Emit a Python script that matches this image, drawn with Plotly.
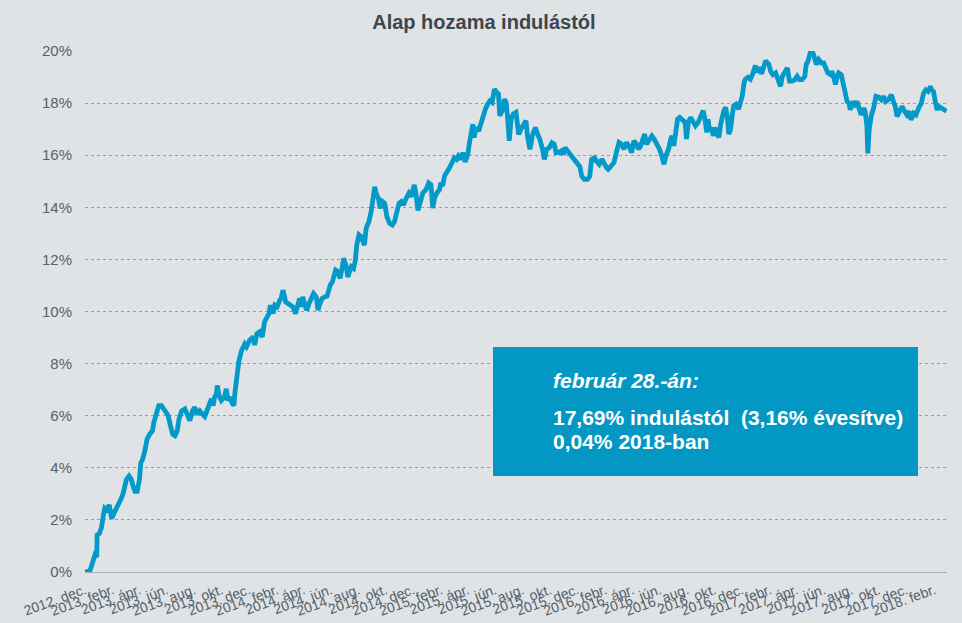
import plotly.graph_objects as go
import pandas as pd

# ---- data ----
start_date = "2012-12-01"
# days since start of the chart
nap = [
    0, 11, 15, 18, 22, 26, 27, 32, 37, 41, 44, 48, 54, 59, 63, 69, 74, 78, 81, 85,
    89, 92, 98, 103, 107, 111, 116, 121, 124, 128, 133, 138, 144, 150, 153, 159, 164, 170, 175, 180,
    185, 190, 195, 200, 205, 209, 215, 222, 227, 233, 239, 244, 249, 255, 261, 266, 271, 277, 281, 285,
    288, 292, 294, 298, 303, 310, 314, 318, 322, 328, 331, 333, 337, 342, 348, 355, 359,
    366, 374, 377, 382, 388, 394, 399, 405, 409, 412, 418, 422, 427, 433, 436, 440, 446, 451, 456,
    462, 468, 473, 477, 481, 484, 490, 493, 498, 503, 508, 514, 518, 521, 527, 533, 538, 542, 545,
    550, 553, 557, 562, 567, 572, 575, 581, 584, 588, 592, 597, 601, 604, 609, 614, 618, 621, 625,
    631, 636, 640, 644, 647, 652, 656, 661, 666, 671, 677, 683, 688, 692, 698, 703, 708, 714, 720,
    725, 729, 732, 736, 740,
    751, 758, 764, 769, 773, 777, 782, 788, 791, 795, 799, 804, 810, 816, 821, 826, 830, 836, 840,
    845, 851, 854, 858, 862, 865, 869, 875, 880, 885, 890, 895, 900, 905, 910, 915, 919, 922, 927,
    932, 936, 939, 943, 947, 952, 958, 964, 969, 974, 980, 984, 989, 995, 1001, 1006, 1011, 1017,
    1021, 1026, 1032, 1038, 1043, 1047, 1053, 1058, 1063, 1067, 1073, 1080, 1087, 1095, 1100, 1104,
    1110, 1117, 1122, 1126, 1132, 1137, 1143,
    1149, 1154, 1159, 1163, 1169, 1176, 1181, 1187, 1193, 1198, 1203, 1209, 1215, 1220, 1226, 1230,
    1235, 1240, 1244, 1248, 1254, 1260, 1265, 1272, 1277, 1282, 1287, 1291, 1297, 1302, 1305, 1309,
    1313, 1317, 1322, 1328, 1334, 1337, 1341, 1346, 1351, 1357, 1363, 1368, 1374, 1378, 1382, 1385,
    1388, 1393, 1396, 1400, 1405, 1409, 1413, 1416, 1420, 1424, 1428, 1431, 1435, 1439, 1442, 1447,
    1453, 1457, 1461, 1465, 1468, 1474, 1479, 1484, 1490, 1494, 1498, 1504, 1509, 1513, 1516,
    1520, 1524, 1529, 1535, 1541, 1546, 1550, 1556, 1561, 1566, 1572, 1578, 1583, 1588, 1594, 1600,
    1603, 1607, 1612, 1618, 1622, 1626, 1631, 1637, 1642, 1647, 1651, 1657, 1660, 1664, 1668, 1672,
    1675, 1681, 1686, 1690, 1694, 1698, 1701, 1706, 1711, 1716, 1721, 1725, 1731, 1734, 1738, 1740,
    1743, 1748, 1753, 1758, 1764, 1770, 1775, 1780, 1786, 1792, 1797, 1801, 1805, 1810, 1816, 1822,
    1827, 1832, 1836, 1842, 1847, 1853, 1859, 1864, 1869, 1874, 1879, 1882, 1886, 1890, 1894, 1898,
    1904, 1915,
]
# cumulative return since launch, %
hozam = [
    0.00, 0.06, 0.26, 0.39, 0.65, 0.58, 1.42, 1.48, 1.74, 2.19, 2.45, 2.39, 2.58, 2.06, 2.19, 2.45, 2.52, 2.65, 2.84, 3.03,
    3.42, 3.55, 3.68, 3.55, 3.29, 3.10, 3.10, 3.55, 4.19, 4.32, 4.65, 5.10, 5.29, 5.42, 5.74, 6.19, 6.39, 6.39, 6.26, 6.06,
    6.00, 5.61, 5.29, 5.23, 5.42, 5.87, 6.19, 6.26, 6.00, 5.81, 6.19, 6.32, 6.06, 6.19, 6.06, 5.97, 6.19, 6.52, 6.65, 6.39,
    6.71, 6.84, 7.16, 6.77, 6.58, 6.71, 7.03, 6.58, 6.71, 6.45, 6.39, 6.84, 7.42, 8.10, 8.50, 8.75, 8.65,
    8.90, 9.03, 8.71, 9.15, 9.22, 9.03, 9.60, 9.79, 9.92, 10.24, 9.92, 10.24, 10.18, 10.44, 10.50, 10.82, 10.37, 10.31, 10.24,
    10.18, 9.92, 10.37, 10.50, 10.18, 10.56, 10.18, 10.05, 10.31, 10.50, 10.69, 10.56, 10.05, 10.24, 10.50, 10.56, 10.59, 10.82, 11.01,
    11.14, 11.40, 11.59, 11.53, 11.27, 11.72, 12.04, 11.72, 11.33, 11.53, 11.72, 11.65, 11.97, 12.55, 12.94, 12.87, 12.74, 12.55, 13.19,
    13.45, 13.83, 14.22, 14.79, 14.54, 14.35, 13.96, 14.22, 14.15, 13.64, 13.38, 13.32, 13.45, 13.77, 14.15, 14.22, 14.09, 14.35, 14.54,
    14.41, 14.79, 14.86, 14.47, 13.88,
    14.55, 14.68, 14.94, 14.87, 13.97, 14.36, 14.55, 14.68, 14.94, 14.81, 15.20, 15.32, 15.52, 15.71, 15.90, 15.84, 15.97, 15.84, 16.10,
    15.74, 16.03, 16.42, 16.87, 17.19, 16.68, 17.06, 16.93, 17.25, 17.51, 17.77, 17.96, 18.09, 18.03, 18.54, 18.41, 18.35, 17.51, 17.70,
    18.15, 18.03, 17.51, 16.55, 17.38, 17.58, 17.64, 16.80, 17.00, 17.13, 17.32, 16.68, 16.23, 16.80, 17.06, 16.80, 16.61, 16.23,
    15.84, 16.23, 16.29, 16.48, 16.42, 16.10, 16.10, 16.16, 16.03, 16.29, 16.16, 16.03, 15.90, 15.71, 15.56, 15.20,
    15.07, 15.07, 15.20, 15.84, 15.90, 15.77, 15.65,
    15.85, 15.65, 15.53, 15.46, 15.59, 15.72, 16.10, 16.49, 16.42, 16.23, 16.49, 16.36, 16.10, 16.55, 16.42, 16.23,
    16.36, 16.55, 16.81, 16.42, 16.62, 16.74, 16.62, 16.42, 16.23, 15.97, 15.65, 15.97, 16.23, 16.62, 16.74, 16.36,
    17.00, 17.38, 17.45, 17.32, 17.26, 16.62, 17.26, 17.45, 17.32, 17.13, 17.26, 17.51, 17.71, 17.38, 16.87, 17.38,
    16.94, 17.06, 16.74, 17.06, 16.81, 16.68, 17.19, 17.51, 17.71, 17.83, 17.45, 16.81, 17.00, 17.58, 17.90, 17.96,
    17.77, 18.03, 18.28, 18.79, 18.92, 18.99, 18.92, 19.12, 19.44, 19.18, 19.37, 19.12, 19.37, 19.63, 19.56,
    19.50, 19.22, 19.09, 19.16, 18.90, 18.64, 19.03, 19.22, 19.35, 18.84, 18.84, 18.90, 19.03, 18.90, 18.90, 19.03,
    19.48, 19.61, 19.93, 19.93, 19.74, 19.48, 19.67, 19.54, 19.54, 19.35, 19.16, 19.09, 19.22, 19.03, 18.71, 19.03,
    19.16, 19.09, 18.71, 18.26, 18.06, 18.00, 17.74, 18.06, 17.94, 18.06, 17.81, 17.55, 17.81, 17.68, 17.10, 16.07,
    16.97, 17.55, 17.81, 18.26, 18.23, 18.13, 18.26, 18.06, 18.13, 18.32, 18.06, 17.87, 17.49, 17.68, 17.87, 17.68,
    17.55, 17.68, 17.36, 17.61, 17.55, 17.81, 18.00, 18.39, 18.51, 18.45, 18.64, 18.51, 18.45, 18.06, 17.74, 17.87,
    17.81, 17.69,
]

tick_labels = [
    "2012. dec.",
    "2013. febr.", "2013. ápr.", "2013. jún.", "2013. aug.", "2013. okt.", "2013. dec.",
    "2014. febr.", "2014. ápr.", "2014. jún.", "2014. aug.", "2014. okt.", "2014. dec.",
    "2015. febr.", "2015. ápr.", "2015. jún.", "2015. aug.", "2015. okt.", "2015. dec.",
    "2016. febr.", "2016. ápr.", "2016. jún.", "2016. aug.", "2016. okt.", "2016. dec.",
    "2017. febr.", "2017. ápr.", "2017. jún.", "2017. aug.", "2017. okt.", "2017. dec.",
    "2018. febr.",
]
y_ticks = [0, 2, 4, 6, 8, 10, 12, 14, 16, 18, 20]
y_tick_labels = [f"{v}%" for v in y_ticks]

title_text = "Alap hozama indulástól"
box_line1 = "február 28.-án:"
box_line2 = "17,69% indulástól\u00a0\u00a0(3,16% évesítve)"
box_line3 = "0,04% 2018-ban"

# ---- build ----
start = pd.Timestamp(start_date)
dates = start + pd.to_timedelta(nap, unit="D")
tick_dates = pd.date_range(start_date, periods=len(tick_labels), freq="2MS")

BG = "#dfe3e6"
LINE = "#0399c8"
BOX = "#0397c4"
FONT = "Liberation Sans, Arial, sans-serif"

fig = go.Figure()
fig.add_trace(go.Scatter(
    x=dates, y=hozam, mode="lines",
    line=dict(color=LINE, width=4.8),
    hoverinfo="skip",
))

fig.update_layout(
    width=962, height=623,
    margin=dict(l=85, r=15, t=51, b=51, autoexpand=False),
    paper_bgcolor=BG, plot_bgcolor=BG,
    showlegend=False,
    title=dict(
        text=f"<b>{title_text}</b>",
        x=0.503, xref="container", xanchor="center",
        y=1 - 22 / 623, yref="container", yanchor="middle",
        automargin=False,
        font=dict(family=FONT, size=20, color="#3e464c"),
    ),
    font=dict(family=FONT),
)

fig.update_xaxes(
    type="date",
    range=[start, pd.Timestamp("2018-03-01")],
    tickmode="array", tickvals=tick_dates, ticktext=tick_labels,
    tickangle=-20,
    tickfont=dict(size=14, color="#55606a", family=FONT),
    showgrid=False, zeroline=False,
    showline=True, linecolor="#a9adb0", linewidth=1,
    ticks="", ticklabelstandoff=4, automargin=False,
)
fig.update_yaxes(
    range=[0, 20],
    tickmode="array", tickvals=y_ticks, ticktext=y_tick_labels,
    tickfont=dict(size=15, color="#5a6065", family=FONT),
    showgrid=True, griddash="dot", gridcolor="#9a9ea2", gridwidth=1,
    zeroline=False, showline=False, ticks="", ticklabelstandoff=12,
    automargin=False,
)

# info box
fig.add_shape(
    type="rect", xref="paper", yref="paper",
    x0=(493 - 85) / 862, x1=(918 - 85) / 862,
    y0=(572 - 476) / 521, y1=(572 - 347) / 521,
    fillcolor=BOX, line=dict(width=0), layer="above",
)
tx = (551 - 85) / 862
fig.add_annotation(
    text=f"<b><i>{box_line1}</i></b>", xref="paper", yref="paper",
    x=tx, y=(572 - 380) / 521, xanchor="left", yanchor="middle",
    showarrow=False, font=dict(family=FONT, size=21, color="white"),
)
fig.add_annotation(
    text=f"<b>{box_line2}</b>", xref="paper", yref="paper",
    x=tx, y=(572 - 417) / 521, xanchor="left", yanchor="middle",
    showarrow=False, font=dict(family=FONT, size=21, color="white"),
)
fig.add_annotation(
    text=f"<b>{box_line3}</b>", xref="paper", yref="paper",
    x=tx, y=(572 - 441) / 521, xanchor="left", yanchor="middle",
    showarrow=False, font=dict(family=FONT, size=21, color="white"),
)

fig.write_html(
    "out.html",
    config={"displayModeBar": False},
    post_script="document.body.style.margin='0px';document.body.style.background='" + BG + "';",
)
